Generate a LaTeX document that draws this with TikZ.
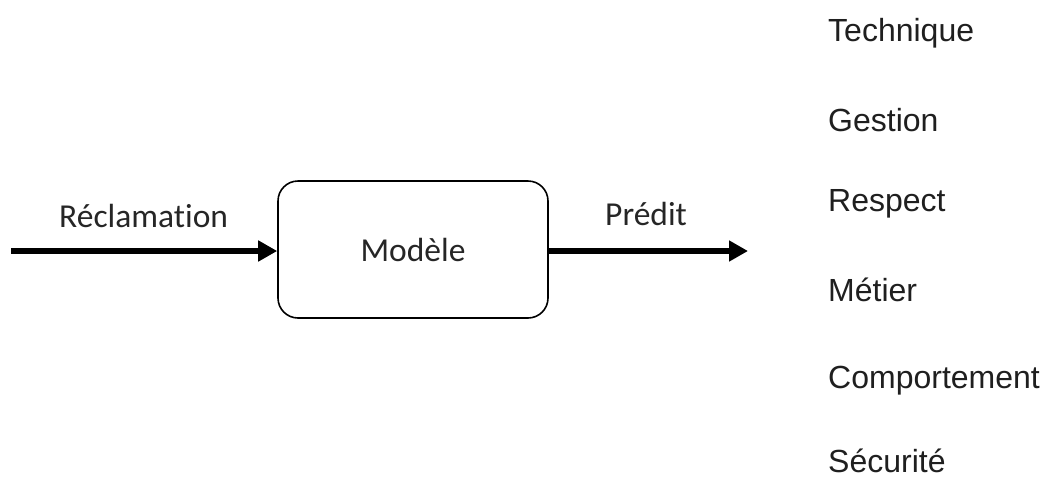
\documentclass[tikz,border=0pt]{standalone}
\usepackage{fontspec}
\usetikzlibrary{arrows.meta}
\newfontfamily\calfont[Ligatures=NoCommon]{Carlito}
\newfontfamily\arifont{Liberation Sans}
\begin{document}
\begin{tikzpicture}[x=1pt,y=-1pt,
  flow/.style={line width=5.5pt,-{Triangle[length=19pt,width=20pt]}},
  modelbox/.style={draw,line width=1.6pt,rounded corners=20pt,minimum width=270pt,minimum height=137pt,
    font=\calfont\fontsize{33.5}{40}\selectfont,text=black!85},
  flowlabel/.style={anchor=base west,inner sep=0pt,font=\calfont\fontsize{33.5}{40}\selectfont,text=black!85},
  classlabel/.style={anchor=base west,inner sep=0pt,font=\arifont\fontsize{32}{38}\selectfont,text=black!88}]
\useasboundingbox (0,0) rectangle (1046,477);

% model block
\node[modelbox] (model) at (413,249.5) {Modèle};

% input and output flows
\coordinate (src) at (11,251);
\coordinate (dst) at (748,251);
\draw[flow] (src) -- (src -| model.west);
\draw[flow] (model.east |- dst) -- (dst);
\node[flowlabel] (reclam) at (59,227) {Réclamation};
\node[flowlabel] (predit) at (605,225) {Prédit};

% predicted classes
\node[classlabel] (c1) at (828,41) {Technique};
\node[classlabel] (c2) at (828,131) {Gestion};
\node[classlabel] (c3) at (828,211) {Respect};
\node[classlabel] (c4) at (828,301) {Métier};
\node[classlabel] (c5) at (828,388) {Comportement};
\node[classlabel] (c6) at (828,472) {Sécurité};
\end{tikzpicture}
\end{document}
